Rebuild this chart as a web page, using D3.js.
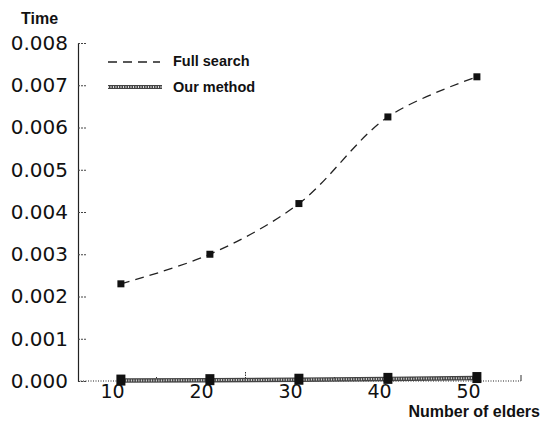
<!DOCTYPE html>
<html><head><meta charset="utf-8">
<script src="https://cdn.jsdelivr.net/npm/d3@7/dist/d3.min.js"></script>
<style>body{margin:0;background:#fff}svg{display:block}</style>
</head><body>
<svg id="c" width="541" height="421"></svg>
<script>
const xValues = [11, 21, 31, 41, 51];
const fullSearch = [0.0023, 0.0030, 0.0042, 0.00625, 0.0072];
const ourMethod = [0.00001, 0.00002, 0.00003, 0.00005, 0.00007];
const xTicks = [10, 20, 30, 40, 50];
const yTicks = [0, 0.001, 0.002, 0.003, 0.004, 0.005, 0.006, 0.007, 0.008];
const seriesNames = ["Full search", "Our method"];

const svg = d3.select("#c");
const x = d3.scaleLinear().domain([10, 50]).range([112, 468]);
const y = d3.scaleLinear().domain([0, 0.008]).range([381, 43]);
const x0 = x.invert(78), x1 = x.invert(521);

// y axis
const ya = d3.axisLeft(y).tickValues(yTicks).tickFormat(d3.format(".3f")).tickSize(0).tickPadding(10);
const yg = svg.append("g").attr("transform", "translate(78,0)").call(ya);
yg.select(".domain").attr("stroke", "#222").attr("stroke-width", 1.2);
yg.selectAll("text").attr("font-family", "DejaVu Sans").attr("font-size", 20).attr("fill", "#111");
yg.selectAll(".tick").append("line").attr("x1", 0).attr("x2", 8).attr("stroke", "#444").attr("stroke-width", 1).attr("stroke-dasharray", "2,1");

// x axis
const xa = d3.axisBottom(x).tickValues(xTicks).tickSize(0).tickPadding(3);
const xg = svg.append("g").attr("transform", "translate(0,381)").call(xa);
xg.select(".domain").remove();
xg.selectAll("text").attr("font-family", "DejaVu Sans").attr("font-size", 19).attr("fill", "#111").attr("dy", "0.72em");
svg.append("line").attr("x1", x(x0)).attr("x2", x(x1)).attr("y1", 381).attr("y2", 381)
  .attr("stroke", "#222").attr("stroke-width", 1.2).attr("stroke-dasharray", "1,1.5");
[15, 25, 35, 45].forEach(v => {
  svg.append("line").attr("x1", x(v)).attr("x2", x(v)).attr("y1", 381).attr("y2", v === 25 ? 372 : 376)
    .attr("stroke", "#333").attr("stroke-width", 1).attr("stroke-dasharray", "1.5,1");
});
svg.append("line").attr("x1", x(x1)).attr("x2", x(x1)).attr("y1", 381).attr("y2", 375).attr("stroke", "#333").attr("stroke-width", 1);

// axis titles
svg.append("text").attr("x", 21).attr("y", 24).text("Time")
  .attr("font-family", "Liberation Sans").attr("font-weight", "bold").attr("font-size", 16).attr("fill", "#111");
svg.append("text").attr("x", 540).attr("y", 417).attr("text-anchor", "end").text("Number of elders")
  .attr("font-family", "Liberation Sans").attr("font-weight", "bold").attr("font-size", 16).attr("fill", "#111");

// full search line
const lineFull = d3.line().x((d, i) => x(xValues[i])).y(d => y(d)).curve(d3.curveCatmullRom);
svg.append("path").datum(fullSearch).attr("d", lineFull).attr("fill", "none")
  .attr("stroke", "#222").attr("stroke-width", 1.3).attr("stroke-dasharray", "9,6");
svg.selectAll(".mf").data(fullSearch).enter().append("rect")
  .attr("x", (d, i) => x(xValues[i]) - 3.5).attr("y", d => y(d) - 3.5).attr("width", 7).attr("height", 7).attr("fill", "#111");

// our method line
const lineOur = d3.line().x((d, i) => x(xValues[i])).y(d => y(d));
svg.append("path").datum(ourMethod).attr("d", lineOur).attr("fill", "none").attr("stroke", "#444").attr("stroke-width", 4.5);
svg.append("path").datum(ourMethod).attr("d", lineOur).attr("fill", "none").attr("stroke", "#ddd").attr("stroke-width", 2).attr("stroke-dasharray", "1,1.5");
svg.selectAll(".mo").data(ourMethod).enter().append("rect")
  .attr("x", (d, i) => x(xValues[i]) - 4.5).attr("y", d => y(d) - 6).attr("width", 9).attr("height", 11).attr("fill", "#111");

// legend
svg.append("line").attr("x1", 108).attr("x2", 160).attr("y1", 62).attr("y2", 62)
  .attr("stroke", "#222").attr("stroke-width", 1.3).attr("stroke-dasharray", "9,6");
svg.append("line").attr("x1", 108).attr("x2", 162).attr("y1", 87).attr("y2", 87).attr("stroke", "#444").attr("stroke-width", 4);
svg.append("line").attr("x1", 108).attr("x2", 162).attr("y1", 87).attr("y2", 87).attr("stroke", "#ddd").attr("stroke-width", 1.8).attr("stroke-dasharray", "1,1.5");
svg.append("text").attr("x", 173).attr("y", 66).text(seriesNames[0])
  .attr("font-family", "Liberation Sans").attr("font-weight", "bold").attr("font-size", 14.5).attr("fill", "#111");
svg.append("text").attr("x", 173).attr("y", 92).text(seriesNames[1])
  .attr("font-family", "Liberation Sans").attr("font-weight", "bold").attr("font-size", 14.5).attr("fill", "#111");
</script>
</body></html>
